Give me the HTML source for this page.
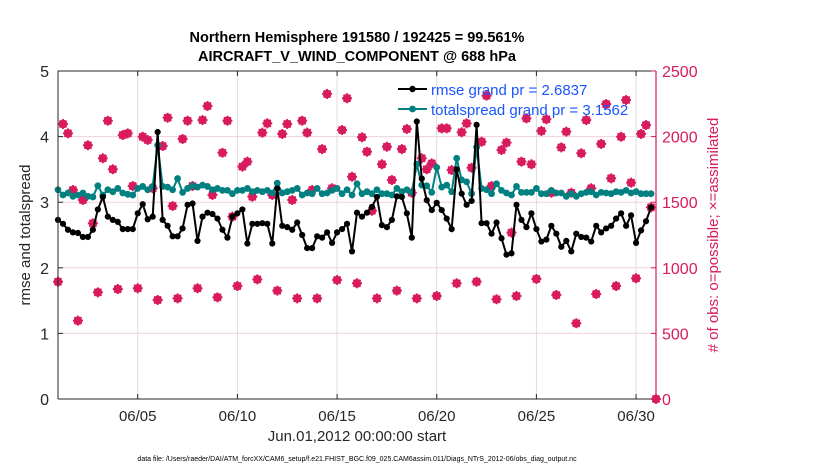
<!DOCTYPE html>
<html><head><meta charset="utf-8"><style>
body{margin:0;background:#fff;}
svg{display:block;font-family:"Liberation Sans",Arial,sans-serif;}
</style></head><body>
<svg id="chart" width="830" height="470" viewBox="0 0 830 470" xmlns="http://www.w3.org/2000/svg">
<rect width="830" height="470" fill="#fff"/>
<g id="grid"></g>
<g id="series"></g>
<g id="axes"></g>
<text x="357" y="42" text-anchor="middle" font-size="14.5" font-weight="bold">Northern Hemisphere 191580 / 192425 = 99.561%</text>
<text x="357" y="61" text-anchor="middle" font-size="14.5" font-weight="bold">AIRCRAFT_V_WIND_COMPONENT @ 688 hPa</text>
<text x="357" y="441" text-anchor="middle" font-size="15" fill="#262626">Jun.01,2012 00:00:00 start</text>
<text x="357" y="461" text-anchor="middle" font-size="7" fill="#000">data file: /Users/raeder/DAI/ATM_forcXX/CAM6_setup/f.e21.FHIST_BGC.f09_025.CAM6assim.011/Diags_NTrS_2012-06/obs_diag_output.nc</text>
<text transform="translate(30,235) rotate(-90)" text-anchor="middle" font-size="15" fill="#262626">rmse and totalspread</text>
<text transform="translate(718,235) rotate(-90)" text-anchor="middle" font-size="15" fill="#d81b5e"># of obs: o=possible; ×=assimilated</text>
<g id="legend">
<line x1="398" y1="89" x2="427" y2="89" stroke="#000" stroke-width="2"/><circle cx="412.5" cy="89" r="3.2" fill="#000"/>
<text x="431" y="95" font-size="15" fill="#1a55ff">rmse grand pr = 2.6837</text>
<line x1="398" y1="109" x2="427" y2="109" stroke="#008080" stroke-width="2"/><circle cx="412.5" cy="109" r="3.4" fill="#008080"/>
<text x="431" y="115" font-size="15" fill="#1a55ff">totalspread grand pr = 3.1562</text>
</g>
</svg>
<script>
const rmse=[2.73,2.67,2.58,2.54,2.53,2.47,2.47,2.58,2.89,3.08,2.78,2.73,2.70,2.59,2.59,2.59,2.83,2.97,2.74,2.78,
4.07,2.73,2.64,2.48,2.48,2.60,2.96,2.98,2.41,2.78,2.84,2.82,2.75,2.58,2.46,2.78,2.83,2.89,2.37,2.67,
2.67,2.68,2.67,2.37,3.21,2.64,2.62,2.58,2.69,2.50,2.30,2.30,2.48,2.46,2.54,2.38,2.54,2.59,2.67,2.25,
2.84,2.78,2.84,2.93,3.08,2.65,2.62,2.73,3.09,3.08,2.83,2.46,4.23,3.36,3.03,2.88,2.99,2.88,2.75,2.59,
3.50,3.13,2.96,3.02,4.18,2.68,2.68,2.52,2.69,2.45,2.20,2.22,2.96,2.73,2.62,2.83,2.59,2.40,2.43,2.64,
2.52,2.32,2.41,2.25,2.52,2.47,2.46,2.40,2.64,2.54,2.60,2.64,2.75,2.83,2.64,2.80,2.38,2.57,2.71,2.92];
const spread=[3.19,3.11,3.14,3.09,3.11,3.14,3.09,3.08,3.25,3.11,3.19,3.16,3.21,3.14,3.12,3.11,3.21,3.24,3.19,3.24,
3.87,3.24,3.23,3.19,3.36,3.15,3.21,3.25,3.23,3.26,3.24,3.19,3.21,3.18,3.18,3.13,3.18,3.18,3.21,3.16,
3.18,3.16,3.18,3.14,3.29,3.14,3.16,3.18,3.21,3.11,3.14,3.13,3.21,3.13,3.14,3.18,3.21,3.13,3.19,3.11,
3.28,3.13,3.16,3.13,3.19,3.13,3.13,3.11,3.21,3.16,3.19,3.15,3.58,3.26,3.25,3.15,3.53,3.23,3.26,3.16,
3.67,3.34,3.31,3.13,3.84,3.21,3.19,3.13,3.28,3.18,3.14,3.11,3.24,3.15,3.15,3.15,3.21,3.13,3.13,3.18,
3.14,3.14,3.09,3.13,3.09,3.13,3.15,3.16,3.11,3.15,3.14,3.13,3.16,3.15,3.18,3.14,3.16,3.13,3.13,3.13];
const nobs=[894,2096,2025,1593,597,1517,1934,1339,813,1835,2121,1751,838,2012,2025,1623,844,1999,1974,1606,
755,1928,2144,1471,767,1982,2121,1623,844,2126,2233,1555,775,1877,2121,1390,861,1771,1809,1542,
912,2030,2101,1555,826,2020,2096,1517,767,2121,2030,1593,767,1905,2325,1606,907,2050,2292,1694,
882,1995,1885,1435,767,1789,1923,1669,826,1905,2058,1572,767,1835,1751,1796,785,2063,2063,1745,
882,2033,2101,1763,894,1961,2312,1623,760,1898,1954,1268,785,1809,2139,1789,915,2043,2132,1572,
793,1918,2038,1572,577,1873,2126,1606,800,1944,2248,1682,861,1999,2279,1649,920,2020,2088,1461,0];
const leftTicks=[0,1,2,3,4,5];
const rightTicks=[0,500,1000,1500,2000,2500];
const dateTickDays=[4,9,14,19,24,29];
const dateTickLabels=["06/05","06/10","06/15","06/20","06/25","06/30"];
const stepDays=0.25;

const X0=58,X1=656,Y0=399,Y1=71;
const xs=d=>X0+(d/30)*(X1-X0);
const yL=v=>Y0-(v/5)*(Y0-Y1);
const yR=v=>Y0-(v/2500)*(Y0-Y1);
const NS="http://www.w3.org/2000/svg";
function mk(tag,attrs,parent){const e=document.createElementNS(NS,tag);for(const k in attrs)e.setAttribute(k,attrs[k]);parent.appendChild(e);return e;}
const grid=document.getElementById('grid'),ser=document.getElementById('series'),ax=document.getElementById('axes');
const PINK="#d81b5e";
dateTickDays.forEach(d=>{const l=mk('line',{x1:xs(d),x2:xs(d),y1:Y1,y2:Y0,stroke:"#dcdcdc","stroke-width":1},grid);

});
rightTicks.slice(1,-1).forEach(v=>{const l=mk('line',{x1:X0,x2:X1,y1:yR(v),y2:yR(v),stroke:"#f0d0dc","stroke-width":1},grid);

});
nobs.forEach((v,i)=>{const cx=xs(i*stepDays),cy=yR(v);const g=mk('g',{},ser);


mk('circle',{cx:cx,cy:cy,r:3.8,fill:PINK,stroke:PINK,"stroke-width":1},g);
const s=5;mk('path',{d:`M${cx-s},${cy}H${cx+s}M${cx},${cy-s}V${cy+s}M${cx-3.5},${cy-3.5}L${cx+3.5},${cy+3.5}M${cx-3.5},${cy+3.5}L${cx+3.5},${cy-3.5}`,stroke:PINK,"stroke-width":1.8},g);});
function series(arr,color,r,name){const pts=arr.map((v,i)=>xs(i*stepDays)+","+yL(v)).join(" ");
const p=mk('polyline',{points:pts,fill:"none",stroke:color,"stroke-width":2},ser);


arr.forEach((v,i)=>{const c=mk('circle',{cx:xs(i*stepDays),cy:yL(v),r:r,fill:color},ser);

});}
series(spread,"#008080",3.4,'totalspread');
series(rmse,"#000",3.1,'rmse');
const fr=mk('path',{d:`M${X0},${Y0}V${Y1}H${X1}M${X0},${Y0}H${X1}`,fill:"none",stroke:"#262626","stroke-width":1},ax);


const ra=mk('line',{x1:X1,x2:X1,y1:Y1,y2:Y0,stroke:PINK,"stroke-width":1.2},ax);


leftTicks.forEach(v=>{mk('line',{x1:X0,x2:X0+5,y1:yL(v),y2:yL(v),stroke:"#262626"},ax);
const t=mk('text',{x:X0-9,y:yL(v)+6,"text-anchor":"end","font-size":16,fill:"#262626"},ax);t.textContent=v;

});
rightTicks.forEach(v=>{mk('line',{x1:X1-5,x2:X1,y1:yR(v),y2:yR(v),stroke:PINK},ax);
const t=mk('text',{x:X1+6,y:yR(v)+6,"font-size":16,fill:PINK},ax);t.textContent=v;

});
dateTickDays.forEach((d,i)=>{mk('line',{x1:xs(d),x2:xs(d),y1:Y0,y2:Y0-5,stroke:"#262626"},ax);mk('line',{x1:xs(d),x2:xs(d),y1:Y1,y2:Y1+5,stroke:"#262626"},ax);
const t=mk('text',{x:xs(d),y:Y0+22,"text-anchor":"middle","font-size":15,fill:"#262626"},ax);t.textContent=dateTickLabels[i];

});
</script>
</body></html>
